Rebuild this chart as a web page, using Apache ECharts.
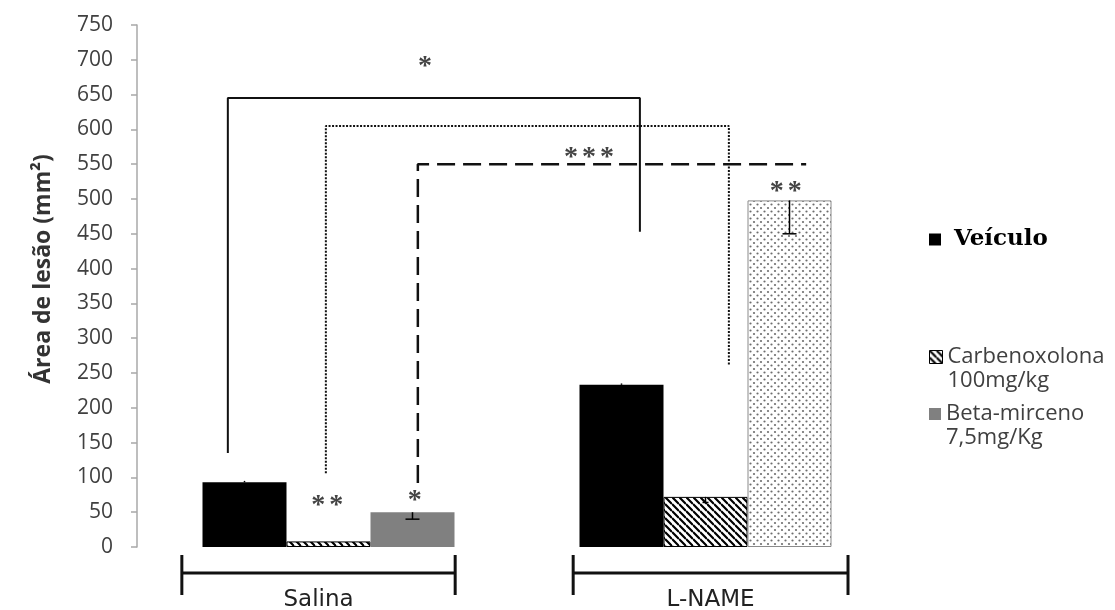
<!DOCTYPE html>
<html>
<head>
<meta charset="utf-8">
<script src="https://cdn.jsdelivr.net/npm/echarts@6/dist/echarts.min.js"></script>
<style>
  html, body { margin: 0; padding: 0; background: #fff; }
  #chart { width: 1115px; height: 610px; }
</style>
</head>
<body>
<div id="chart"></div>
<script>
// ---- data ----
const groups = ['Salina', 'L-NAME'];
const seriesNames = ['Veículo', 'Carbenoxolona', 'Beta-mirceno'];
const doseLabels = ['', '100mg/kg', '7,5mg/Kg'];

const veiculo = [93, 233];
const carbenoxolona = [8, 72];
const betaMirceno = [50, 498];

// error bars (Veículo drawn upward, treatments downward)
const veiculoErrPlus = [2, 2];
const carbenoxolonaErrMinus = [0, 8];
const betaMircenoErrMinus = [10, 48];

const yMin = 0, yMax = 750, yStep = 50;

// comparison brackets; x in group units (0 = Salina, 1 = L-NAME)
const bracketSolid = [[-0.267, 135], [-0.267, 645], [0.826, 645], [0.826, 453]];
const bracketDotted = [[-0.007, 106], [-0.007, 605], [1.062, 605], [1.062, 261]];
const bracketDashed = [[0.237, 92], [0.237, 550], [1.267, 550]];

// significance marks: [number of asterisks, x, y]
const stars = [
  [1, 0.256, 700],
  [3, 0.691, 569],
  [2, -0.003, 69],
  [1, 0.229, 76],
  [2, 1.213, 521]
];

// group spans drawn under the bars
const groupSpans = [[-0.389, 0.336], [0.649, 1.378]];

// ---- fill patterns ----
function hatchPattern() {
  const s = 7;
  const c = document.createElement('canvas');
  c.width = s; c.height = s;
  const g = c.getContext('2d');
  g.fillStyle = '#fff';
  g.fillRect(0, 0, s, s);
  g.strokeStyle = '#000';
  g.lineWidth = 2.2;
  g.beginPath();
  for (let k = -1; k <= 1; k++) {
    g.moveTo(0, k * s);
    g.lineTo(s, s + k * s);
  }
  g.stroke();
  return c;
}
function dotPattern() {
  const s = 7;
  const c = document.createElement('canvas');
  c.width = s; c.height = s;
  const g = c.getContext('2d');
  g.fillStyle = '#fff';
  g.fillRect(0, 0, s, s);
  g.fillStyle = '#6e6e6e';
  g.beginPath(); g.arc(1.5, 1.5, 1.1, 0, Math.PI * 2); g.fill();
  g.beginPath(); g.arc(5.0, 5.0, 1.1, 0, Math.PI * 2); g.fill();
  return c;
}
const hatchFill = { image: hatchPattern(), repeat: 'repeat' };
const dotFill = { image: dotPattern(), repeat: 'repeat' };

const BAR_W = 84;
const STAR_STEP = 18;

// ---- error bars ----
function errorSeries(values, minus, plus, seriesIdx, capW) {
  return {
    type: 'custom',
    xAxisIndex: 0,
    yAxisIndex: 0,
    z: 5,
    silent: true,
    data: values.map((v, i) => [i, v, minus ? minus[i] : 0, plus ? plus[i] : 0]),
    encode: { x: 0, y: 1 },
    renderItem: function (params, api) {
      const cat = api.value(0), v = api.value(1);
      const lo = v - api.value(2), hi = v + api.value(3);
      if (lo === hi) return null;
      const dx = (seriesIdx - 1) * BAR_W;
      const pLo = api.coord([cat, lo]);
      const pHi = api.coord([cat, hi]);
      const x = pLo[0] + dx;
      const children = [{
        type: 'line',
        shape: { x1: x, y1: pLo[1], x2: x, y2: pHi[1] },
        style: { stroke: '#000', lineWidth: 1.5 }
      }];
      const capY = api.value(2) > 0 ? pLo[1] : pHi[1];
      children.push({
        type: 'line',
        shape: { x1: x - capW / 2, y1: capY, x2: x + capW / 2, y2: capY },
        style: { stroke: '#000', lineWidth: 1.5 }
      });
      return { type: 'group', children: children };
    }
  };
}

// ---- bracket lines ----
function bracketSeries(points, lineType, width) {
  return {
    type: 'line',
    xAxisIndex: 1,
    yAxisIndex: 0,
    data: points,
    showSymbol: false,
    symbol: 'none',
    silent: true,
    z: 4,
    lineStyle: { color: '#111', width: width, type: lineType, cap: 'butt' }
  };
}

const chart = echarts.init(document.getElementById('chart'), null, { renderer: 'canvas' });

const option = {
  backgroundColor: '#fff',
  animation: false,
  grid: { left: 140, width: 754, top: 25, height: 522 },
  xAxis: [
    {
      type: 'category',
      data: groups,
      axisLine: { show: false },
      axisTick: { show: false },
      axisLabel: { show: false }
    },
    {
      type: 'value',
      min: -0.5,
      max: 1.5,
      show: false
    }
  ],
  yAxis: {
    type: 'value',
    min: yMin,
    max: yMax,
    interval: yStep,
    offset: 3,
    name: 'Área de lesão (mm²)',
    nameLocation: 'middle',
    nameGap: 82,
    nameRotate: 90,
    nameTextStyle: {
      fontFamily: 'Open Sans', fontWeight: 'bold', fontSize: 23, color: '#333',
      padding: [0, 0, 0, 34]
    },
    axisLine: { show: true, onZero: false, lineStyle: { color: '#a8a8a8', width: 1.5 } },
    axisTick: { show: true, length: 6, lineStyle: { color: '#a8a8a8', width: 1.5 } },
    axisLabel: { margin: 24, fontFamily: 'Open Sans', fontSize: 21, color: '#404040' },
    splitLine: { show: false }
  },
  legend: [
    {
      data: [{ name: seriesNames[0], icon: 'rect' }],
      left: 929, top: 228,
      padding: 0, itemWidth: 12, itemHeight: 12,
      selectedMode: false,
      formatter: n => ' ' + n,
      textStyle: { fontFamily: 'DejaVu Serif', fontWeight: 'bold', fontSize: 23, color: '#000' }
    },
    {
      data: [{ name: seriesNames[1], icon: 'rect' }],
      left: 929, top: 321,
      padding: 0, itemWidth: 13, itemHeight: 13,
      selectedMode: false,
      formatter: n => '\n' + n + '\n' + doseLabels[1],
      itemStyle: { borderColor: '#000', borderWidth: 1 },
      textStyle: { fontFamily: 'Open Sans', fontSize: 22, lineHeight: 24, color: '#404040' }
    },
    {
      data: [{ name: seriesNames[2], icon: 'rect' }],
      left: 929, top: 378,
      padding: 0, itemWidth: 12, itemHeight: 12,
      selectedMode: false,
      formatter: n => '\n' + n + '\n' + doseLabels[2],
      textStyle: { fontFamily: 'Open Sans', fontSize: 22, lineHeight: 24, color: '#404040' }
    }
  ],
  series: [
    {
      name: seriesNames[0],
      type: 'bar',
      xAxisIndex: 0,
      barWidth: BAR_W,
      barGap: '0%',
      data: veiculo,
      itemStyle: { color: '#000' }
    },
    {
      name: seriesNames[1],
      type: 'bar',
      xAxisIndex: 0,
      barWidth: BAR_W,
      barGap: '0%',
      data: carbenoxolona,
      itemStyle: { color: hatchFill, borderColor: '#000', borderWidth: 1 }
    },
    {
      name: seriesNames[2],
      type: 'bar',
      xAxisIndex: 0,
      barWidth: BAR_W,
      barGap: '0%',
      itemStyle: { color: '#808080' },
      data: [
        { value: betaMirceno[0], itemStyle: { color: '#808080' } },
        { value: betaMirceno[1], itemStyle: { color: dotFill, borderColor: '#8a8a8a', borderWidth: 1 } }
      ]
    },
    errorSeries(veiculo, null, veiculoErrPlus, 0, 0),
    errorSeries(carbenoxolona, carbenoxolonaErrMinus, null, 1, 6),
    errorSeries(betaMirceno, betaMircenoErrMinus, null, 2, 14),
    bracketSeries(bracketSolid, 'solid', 2),
    bracketSeries(bracketDotted, [2, 1.5], 2),
    bracketSeries(bracketDashed, [18, 8], 2.5),
    {
      // significance asterisks, one text per asterisk
      type: 'custom',
      xAxisIndex: 1,
      yAxisIndex: 0,
      silent: true,
      z: 6,
      data: stars.map(s => [s[1], s[2], s[0]]),
      encode: { x: 0, y: 1 },
      renderItem: function (params, api) {
        const p = api.coord([api.value(0), api.value(1)]);
        const n = api.value(2);
        const children = [];
        for (let k = 0; k < n; k++) {
          children.push({
            type: 'text',
            x: p[0] + (k - (n - 1) / 2) * STAR_STEP,
            y: p[1] + 7,
            style: {
              text: '*',
              fontFamily: 'Liberation Serif',
              fontWeight: 'bold',
              fontSize: 28,
              fill: '#444',
              align: 'center',
              verticalAlign: 'middle'
            }
          });
        }
        return { type: 'group', children: children };
      }
    },
    {
      // group brackets with their names
      type: 'custom',
      xAxisIndex: 1,
      yAxisIndex: 0,
      silent: true,
      clip: false,
      data: groupSpans.map(s => [s[0], s[1]]),
      renderItem: function (params, api) {
        const a = api.coord([api.value(0), 0]);
        const b = api.coord([api.value(1), 0]);
        const base = a[1];
        const yLine = base + 26;
        const st = { stroke: '#111', lineWidth: 3 };
        return {
          type: 'group',
          children: [
            { type: 'line', shape: { x1: a[0], y1: yLine, x2: b[0], y2: yLine }, style: st },
            { type: 'line', shape: { x1: a[0], y1: base + 8, x2: a[0], y2: base + 48 }, style: st },
            { type: 'line', shape: { x1: b[0], y1: base + 8, x2: b[0], y2: base + 48 }, style: st },
            {
              type: 'text',
              x: (a[0] + b[0]) / 2, y: base + 42,
              style: {
                text: groups[params.dataIndex],
                fontFamily: 'DejaVu Sans',
                fontSize: 23,
                fill: '#222',
                align: 'center',
                verticalAlign: 'top'
              }
            }
          ]
        };
      }
    }
  ]
};

chart.setOption(option);
</script>
</body>
</html>
